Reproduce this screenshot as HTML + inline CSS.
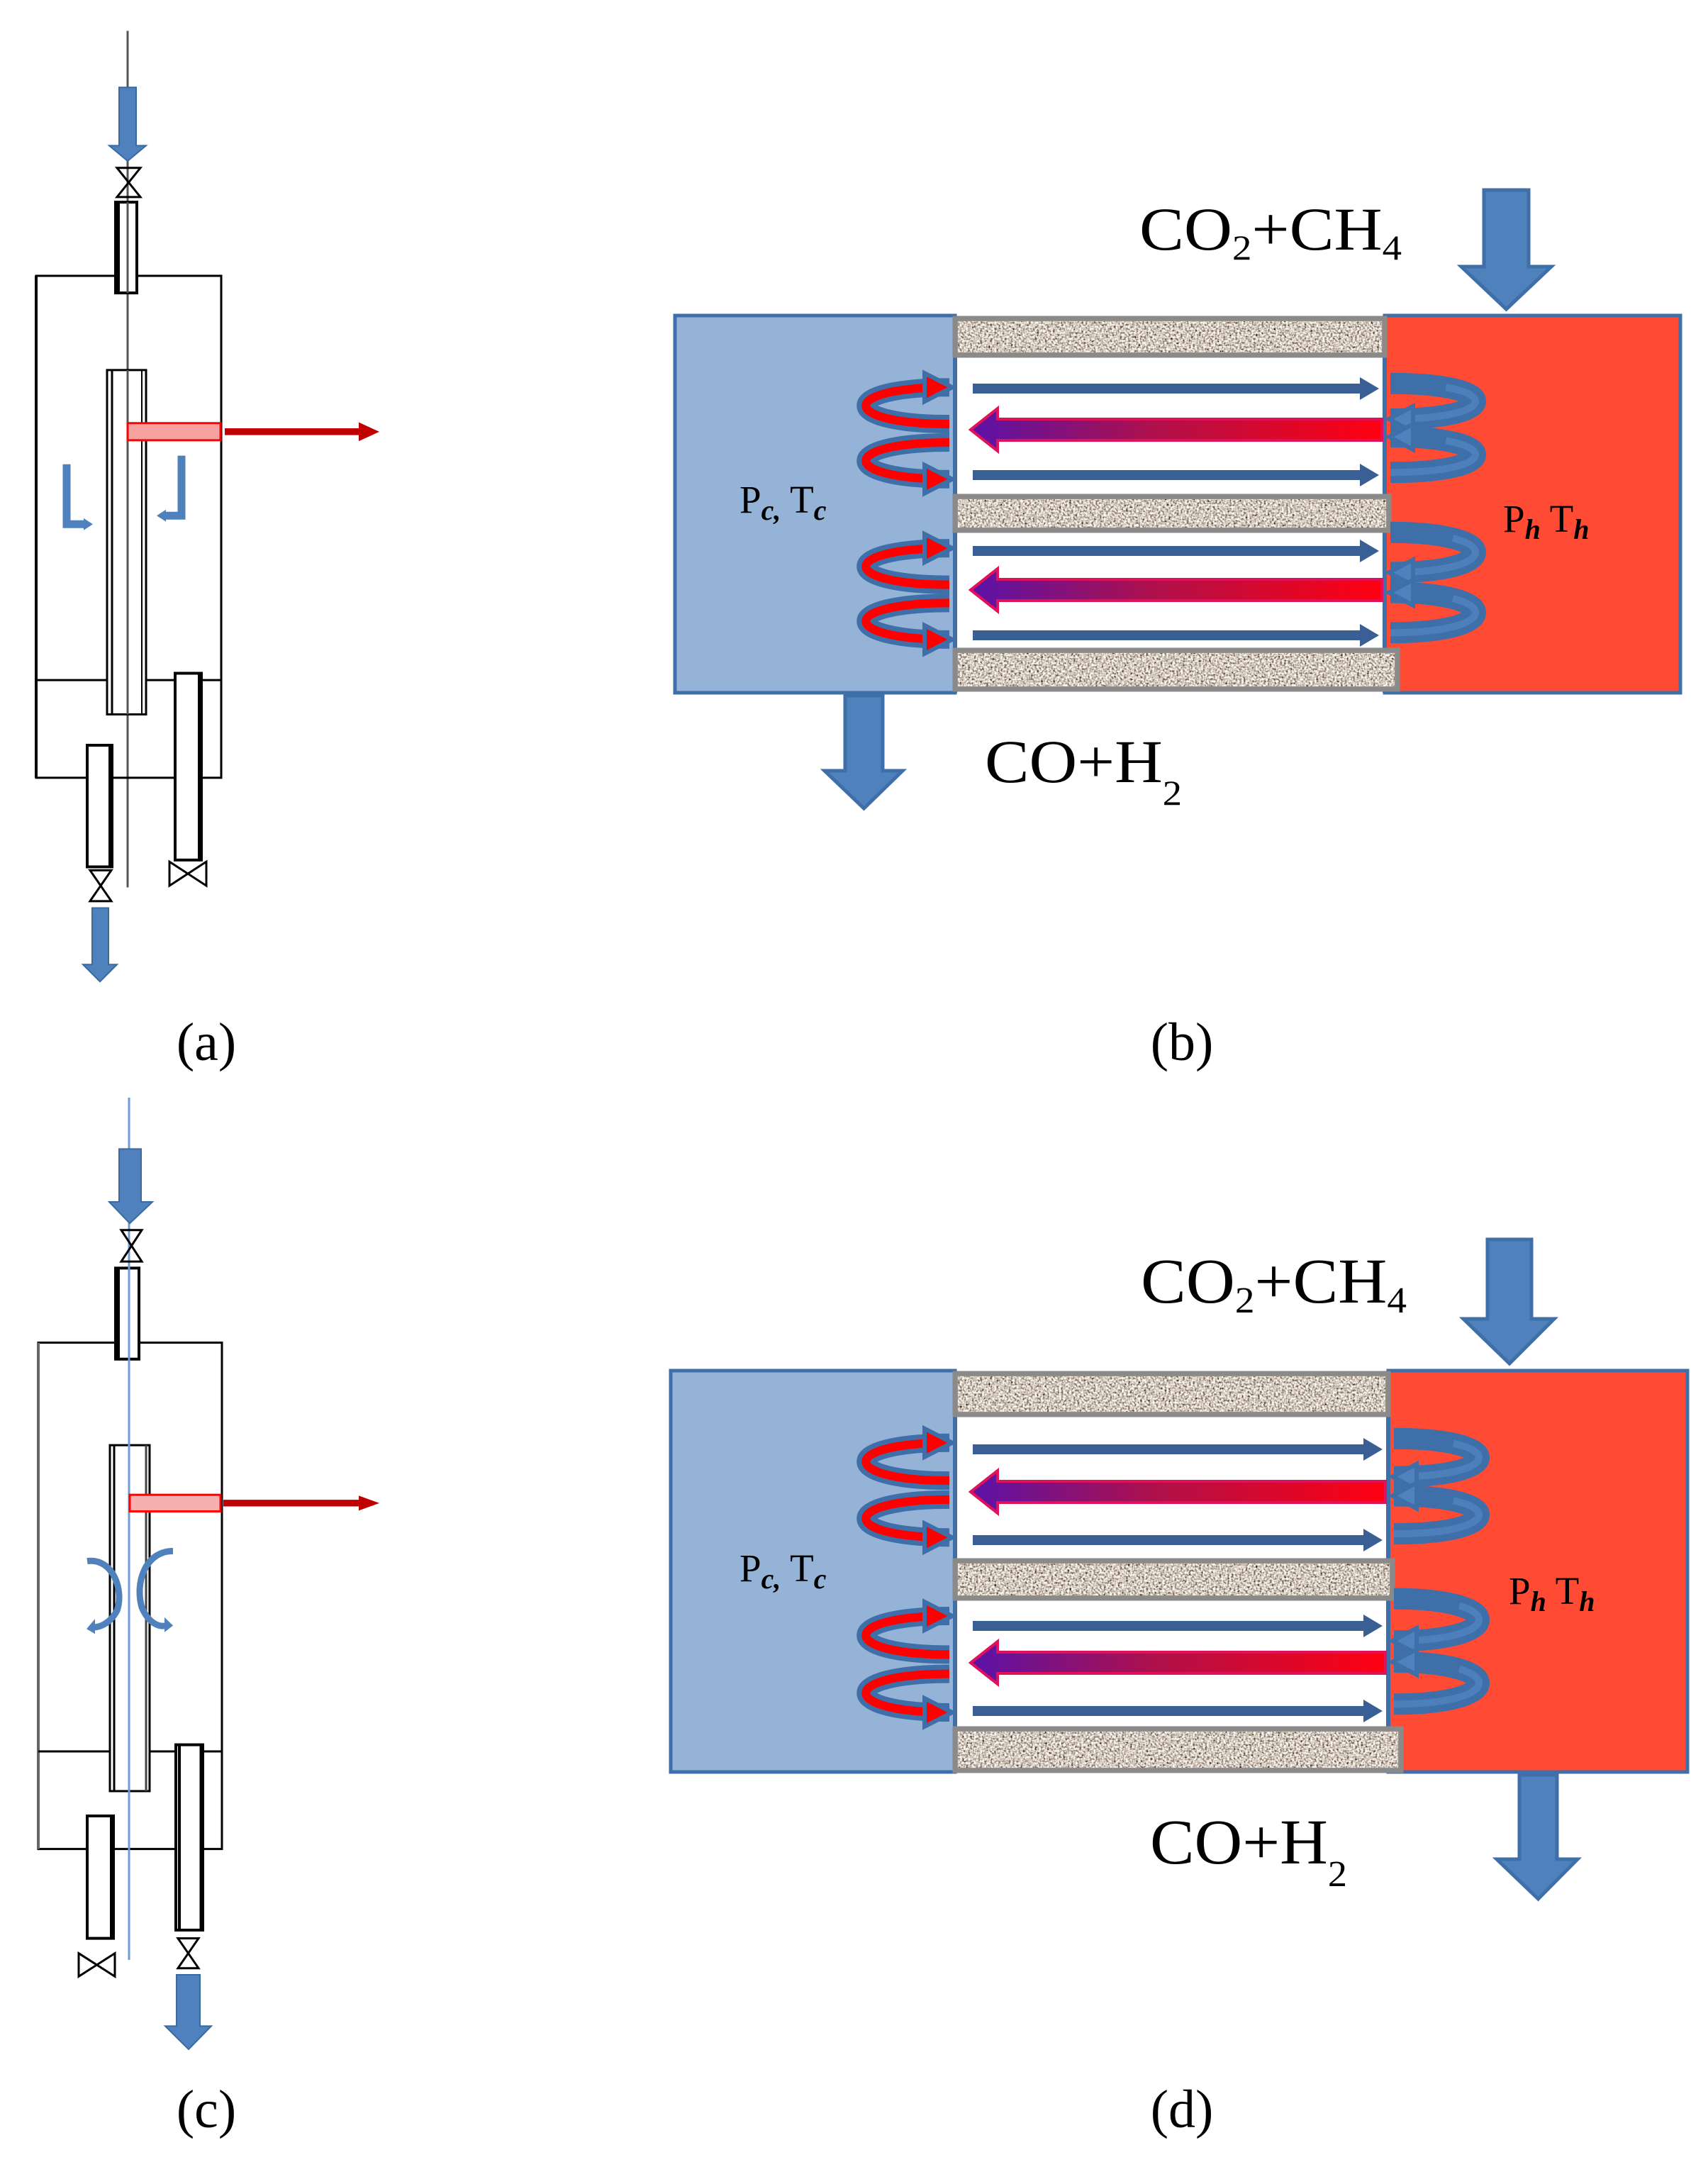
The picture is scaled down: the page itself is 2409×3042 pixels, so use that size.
<!DOCTYPE html>
<html><head><meta charset="utf-8"><style>
html,body{margin:0;padding:0;background:#fff;}
svg{display:block;}
text{font-family:"Liberation Serif",serif;fill:#000;}
#pa *, #pc * {vector-effect:non-scaling-stroke;}
</style></head><body>
<svg id="s" width="2409" height="3042" viewBox="0 0 2409 3042" xmlns="http://www.w3.org/2000/svg">
<defs>
<filter id="noise" x="0" y="0" width="100%" height="100%" filterUnits="objectBoundingBox">
<feTurbulence type="fractalNoise" baseFrequency="0.35" numOctaves="3" seed="3" result="t"/>
<feColorMatrix type="matrix" values="2.0 0 0 0 -0.35  1.9 0 0 0 -0.37  1.8 0 0 0 -0.38  0 0 0 0 1" in="t"/>
</filter>
<linearGradient id="rg" x1="0" x2="1" y1="0" y2="0">
<stop offset="0" stop-color="#5a12a8"/><stop offset="0.45" stop-color="#b0104a"/><stop offset="1" stop-color="#ff0010"/>
</linearGradient>
</defs>

<!-- ===== (a) ===== -->
<g id="pa" transform="scale(1,2.416)">
<line x1="180" y1="18" x2="180" y2="518" stroke="#555" stroke-width="3"/>
<polygon points="168,51 192,51 192,85 206,85 180,94 154,85 168,85" fill="#4f81bd" stroke="#3a6aa0" stroke-width="2"/>
<path d="M165,98 L198,98 L165,115 L198,115 Z" fill="none" stroke="#000" stroke-width="3"/>
<rect x="163" y="118" width="30" height="53" fill="#fff" stroke="#000" stroke-width="4"/>
<line x1="167" y1="118" x2="167" y2="171" stroke="#000" stroke-width="4"/>
<line x1="180" y1="118" x2="180" y2="171" stroke="#555" stroke-width="3"/>
<polyline points="161,161 51,161 51,454 312,454 312,161 194,161" fill="none" stroke="#000" stroke-width="3"/>
<line x1="51" y1="161" x2="51" y2="454" stroke="#000" stroke-width="4"/>
<line x1="51" y1="397" x2="150" y2="397" stroke="#000" stroke-width="3"/>
<line x1="206" y1="397" x2="312" y2="397" stroke="#000" stroke-width="3"/>
<rect x="151" y="216" width="55" height="201" fill="#fff" stroke="#000" stroke-width="3"/>
<line x1="158" y1="216" x2="158" y2="417" stroke="#000" stroke-width="3"/>
<line x1="200" y1="216" x2="200" y2="417" stroke="#000" stroke-width="2"/>
<line x1="180" y1="216" x2="180" y2="417" stroke="#555" stroke-width="3"/>
<rect x="180" y="247" width="131" height="10" fill="#f7a0a0" stroke="#f00" stroke-width="3"/>
<polygon points="317,250 506,250 506,246.5 535,252 506,257.5 506,254 317,254" fill="#c00000"/>
<path d="M94,271 V306 H120" fill="none" stroke="#4f81bd" stroke-width="11"/><polygon points="118,302.5 131,306 118,309.5" fill="#4f81bd"/>
<path d="M256,266 V301 H232" fill="none" stroke="#4f81bd" stroke-width="11"/><polygon points="234,297.5 221,301 234,304.5" fill="#4f81bd"/>
<rect x="123" y="435" width="35" height="71" fill="#fff" stroke="#000" stroke-width="4"/>
<line x1="155" y1="435" x2="155" y2="506" stroke="#000" stroke-width="4"/>
<path d="M127,508 L157,508 L127,526 L157,526 Z" fill="none" stroke="#000" stroke-width="3"/>
<polygon points="130,530 153,530 153,563 165,563 141,573 117,563 130,563" fill="#4f81bd" stroke="#3a6aa0" stroke-width="2"/>
<rect x="247" y="393" width="37" height="109" fill="#fff" stroke="#000" stroke-width="4"/>
<line x1="281" y1="393" x2="281" y2="502" stroke="#000" stroke-width="4"/>
<path d="M239,503 L291,517 L291,503 L239,517 Z" fill="none" stroke="#000" stroke-width="3"/>
</g>

<!-- ===== (c) ===== -->
<g id="pc" transform="translate(0,1520) scale(1,2.334) translate(0,-1520)">
<rect x="163" y="1635" width="33" height="55" fill="#fff" stroke="#000" stroke-width="4"/>
<line x1="167" y1="1635" x2="167" y2="1690" stroke="#000" stroke-width="4"/>
<polyline points="162,1680 54,1680 54,1986 313,1986 313,1680 198,1680" fill="none" stroke="#000" stroke-width="3"/>
<line x1="54" y1="1680" x2="54" y2="1986" stroke="#666" stroke-width="4"/>
<line x1="54" y1="1927" x2="154" y2="1927" stroke="#000" stroke-width="3"/>
<line x1="211" y1="1927" x2="313" y2="1927" stroke="#000" stroke-width="3"/>
<rect x="155" y="1742" width="56" height="209" fill="#fff" stroke="#000" stroke-width="3"/>
<line x1="161" y1="1742" x2="161" y2="1951" stroke="#000" stroke-width="3"/>
<line x1="206" y1="1742" x2="206" y2="1951" stroke="#444" stroke-width="3"/>
<rect x="123" y="1966" width="37" height="74" fill="#fff" stroke="#000" stroke-width="4"/>
<line x1="157" y1="1966" x2="157" y2="2040" stroke="#000" stroke-width="4"/>
<path d="M111,2049 L162,2063 L162,2049 L111,2063 Z" fill="none" stroke="#000" stroke-width="3"/>
<rect x="248" y="1923" width="38" height="112" fill="#fff" stroke="#000" stroke-width="4"/>
<line x1="253" y1="1923" x2="253" y2="2035" stroke="#000" stroke-width="4"/>
<line x1="283" y1="1923" x2="283" y2="2035" stroke="#000" stroke-width="3"/>
<path d="M251,2040 L280,2040 L251,2058 L280,2058 Z" fill="none" stroke="#000" stroke-width="3"/>
<line x1="182" y1="1532" x2="182" y2="2053" stroke="#6f9bd1" stroke-width="3"/>
<polygon points="168,1563 199,1563 199,1595 215,1595 183,1608 154,1595 168,1595" fill="#4f81bd" stroke="#3a6aa0" stroke-width="2"/>
<path d="M171,1612 L200,1612 L171,1631 L200,1631 Z" fill="none" stroke="#000" stroke-width="3"/>
<rect x="183" y="1772" width="128" height="10" fill="#f7b0b0" stroke="#f00" stroke-width="3"/>
<polygon points="315,1775 506,1775 506,1772.5 535,1777 506,1781.5 506,1779 315,1779" fill="#c00000"/>
<path d="M123,1812 C160,1810 175,1830 165,1842 C155,1850 140,1852 132,1852" fill="none" stroke="#4f81bd" stroke-width="9"/>
<polygon points="134,1847 122,1853 134,1856" fill="#4f81bd"/>
<path d="M244,1806 C205,1806 190,1825 200,1840 C210,1850 225,1852 234,1851" fill="none" stroke="#4f81bd" stroke-width="9"/>
<polygon points="232,1846 244,1851 232,1855" fill="#4f81bd"/>
<polygon points="249,2062 282,2062 282,2093 298,2093 266,2107 233,2093 249,2093" fill="#4f81bd" stroke="#3a6aa0" stroke-width="2"/>
</g>

<g id="pb"></g>
<g id="pd"></g>

<!-- text (b) -->
<text x="1607" y="352" font-size="86" textLength="370" lengthAdjust="spacingAndGlyphs">CO<tspan font-size="50" dy="14">2</tspan><tspan dy="-14">+CH</tspan><tspan font-size="50" dy="14">4</tspan></text>
<text x="1389" y="1103" font-size="86" textLength="278" lengthAdjust="spacingAndGlyphs">CO+H<tspan font-size="50" dy="32">2</tspan></text>
<text x="1043" y="723" font-size="55">P<tspan font-size="40" font-style="italic" font-weight="bold" dy="10">c,</tspan><tspan dy="-10">  T</tspan><tspan font-size="40" font-style="italic" font-weight="bold" dy="10">c</tspan></text>
<text x="2120" y="750" font-size="55">P<tspan font-size="40" font-style="italic" font-weight="bold" dy="10">h</tspan><tspan dy="-10">  T</tspan><tspan font-size="40" font-style="italic" font-weight="bold" dy="10">h</tspan></text>
<!-- text (d) -->
<text x="1609" y="1837" font-size="90" textLength="375" lengthAdjust="spacingAndGlyphs">CO<tspan font-size="52" dy="14">2</tspan><tspan dy="-14">+CH</tspan><tspan font-size="52" dy="14">4</tspan></text>
<text x="1622" y="2628" font-size="90" textLength="278" lengthAdjust="spacingAndGlyphs">CO+H<tspan font-size="52" dy="32">2</tspan></text>
<text x="1043" y="2230" font-size="55">P<tspan font-size="40" font-style="italic" font-weight="bold" dy="10">c,</tspan><tspan dy="-10">  T</tspan><tspan font-size="40" font-style="italic" font-weight="bold" dy="10">c</tspan></text>
<text x="2128" y="2262" font-size="55">P<tspan font-size="40" font-style="italic" font-weight="bold" dy="10">h</tspan><tspan dy="-10">  T</tspan><tspan font-size="40" font-style="italic" font-weight="bold" dy="10">h</tspan></text>

<!-- labels -->
<text x="291" y="1495" font-size="76" text-anchor="middle">(a)</text>
<text x="1667" y="1495" font-size="76" text-anchor="middle">(b)</text>
<text x="291" y="3000" font-size="76" text-anchor="middle">(c)</text>
<text x="1667" y="3000" font-size="76" text-anchor="middle">(d)</text>
</svg>
<script>
(function(){
var NS="http://www.w3.org/2000/svg";
function el(p,t,a){var e=document.createElementNS(NS,t);for(var k in a)e.setAttribute(k,a[k]);p.appendChild(e);return e;}
function panel(g,o){
 el(g,'rect',{x:o.x0,y:o.y0,width:o.xc1-o.x0,height:o.y1-o.y0,fill:'#95b3d7',stroke:'#3f6fa8','stroke-width':5});
 el(g,'rect',{x:o.xc2,y:o.y0,width:o.x3-o.xc2,height:o.y1-o.y0,fill:'#ff4b33',stroke:'#3f6fa8','stroke-width':5});
 el(g,'rect',{x:o.xc1,y:o.bars[0][1],width:o.xc2-o.xc1,height:o.bars[2][0]-o.bars[0][1],fill:'#fff'});
 el(g,'line',{x1:o.xc1,y1:o.y0,x2:o.xc1,y2:o.y1,stroke:'#3f6fa8','stroke-width':6});
 el(g,'line',{x1:o.xc2,y1:o.y0,x2:o.xc2,y2:o.y1,stroke:'#3f6fa8','stroke-width':6});
 o.bars.forEach(function(b,i){
  var xr=o.xc2+(i==2?18:(i==1?6:0));
  el(g,'rect',{x:o.xc1,y:b[0],width:xr-o.xc1,height:b[1]-b[0],fill:'#a89a8c',stroke:'#8a8a8a','stroke-width':7});
  el(g,'rect',{x:o.xc1+4,y:b[0]+4,width:xr-o.xc1-8,height:b[1]-b[0]-8,filter:'url(#noise)',fill:'#a89a8c'});
 });
 o.arrows.forEach(function(a){
  var y=a[1];
  if(a[0]=='b'){
   el(g,'line',{x1:o.xc1+25,y1:y,x2:o.xc2-30,y2:y,stroke:'#3a5f95','stroke-width':14});
   el(g,'polygon',{points:(o.xc2-35)+','+(y-16)+' '+(o.xc2-8)+','+y+' '+(o.xc2-35)+','+(y+16),fill:'#3a5f95'});
  } else {
   el(g,'polygon',{points:(o.xc1+22)+','+y+' '+(o.xc1+60)+','+(y-30)+' '+(o.xc1+60)+','+(y-15)+' '+(o.xc2-4)+','+(y-15)+' '+(o.xc2-4)+','+(y+15)+' '+(o.xc1+60)+','+(y+15)+' '+(o.xc1+60)+','+(y+30),fill:'url(#rg)',stroke:'#e0105a','stroke-width':4});
  }
 });
 o.ll.forEach(function(L){
  var t=L[0],b=L[1],h=(b-t),xl=o.xc1-155,xr=o.xc1-8;
  var ys=[t+h*0.1,t+h*0.42,t+h*0.58,t+h*0.9];
  for(var i=0;i<2;i++){
   var a=ys[i*2],c=ys[i*2+1];
   var d='M'+xr+','+a+' C'+(xl-10)+','+a+' '+(xl-10)+','+c+' '+xr+','+c;
   el(g,'path',{d:d,fill:'none',stroke:'#3f6fa8','stroke-width':26});
   el(g,'path',{d:d,fill:'none',stroke:'#ff0000','stroke-width':12});
  }
  [ys[0],ys[3]].forEach(function(y){
   el(g,'polygon',{points:(xr-35)+','+(y-20)+' '+(xr+4)+','+y+' '+(xr-35)+','+(y+20),fill:'#ff0000',stroke:'#3f6fa8','stroke-width':6});
  });
 });
 o.rl.forEach(function(L){
  var t=L[0],b=L[1],h=(b-t),xl=o.xc2+8,xr=o.xc2+158;
  var ys=[t+h*0.1,t+h*0.42,t+h*0.58,t+h*0.9];
  for(var i=0;i<2;i++){
   var a=ys[i*2],c=ys[i*2+1];
   var d='M'+xl+','+a+' C'+(xr+10)+','+a+' '+(xr+10)+','+c+' '+xl+','+c;
   el(g,'path',{d:d,fill:'none',stroke:'#3f6fa8','stroke-width':30});
   el(g,'path',{d:d,fill:'none',stroke:'#4f81bd','stroke-width':10,'stroke-dasharray':'0 '+(h*0.5)+' 400','opacity':0.9});
  }
  [ys[1],ys[2]].forEach(function(y){
   el(g,'polygon',{points:(xl+32)+','+(y-18)+' '+(xl-2)+','+y+' '+(xl+32)+','+(y+18),fill:'#4f81bd',stroke:'#3f6fa8','stroke-width':6});
  });
 });
 var A=o.ain;
 el(g,'polygon',{points:A[0]+','+A[2]+' '+A[1]+','+A[2]+' '+A[1]+','+A[3]+' '+A[5]+','+A[3]+' '+((A[0]+A[1])/2)+','+A[6]+' '+A[4]+','+A[3]+' '+A[0]+','+A[3],fill:'#4f81bd',stroke:'#3f6fa8','stroke-width':5});
 A=o.aout;
 el(g,'polygon',{points:A[0]+','+A[2]+' '+A[1]+','+A[2]+' '+A[1]+','+A[3]+' '+A[5]+','+A[3]+' '+((A[0]+A[1])/2)+','+A[6]+' '+A[4]+','+A[3]+' '+A[0]+','+A[3],fill:'#4f81bd',stroke:'#3f6fa8','stroke-width':5});
}
panel(document.getElementById('pb'),{x0:952,xc1:1347,xc2:1953,x3:2370,y0:445,y1:977,
 bars:[[449,501],[700,748],[917,972]],
 arrows:[['b',548],['r',606],['b',670],['b',777],['r',832],['b',896]],
 ll:[[530,692],[757,918]],rl:[[525,682],[733,910]],
 ain:[2093,2156,268,376,2061,2188,436],aout:[1192,1245,981,1087,1163,1273,1140]});
panel(document.getElementById('pd'),{x0:946,xc1:1347,xc2:1958,x3:2380,y0:1933,y1:2499,
 bars:[[1937,1995],[2201,2254],[2438,2497]],
 arrows:[['b',2044],['r',2104],['b',2172],['b',2293],['r',2345],['b',2413]],
 ll:[[2018,2185],[2262,2432]],rl:[[2012,2180],[2236,2422]],
 ain:[2098,2160,1748,1860,2064,2192,1923],aout:[2143,2196,2503,2622,2111,2225,2678]});
})();
</script>
</body></html>
